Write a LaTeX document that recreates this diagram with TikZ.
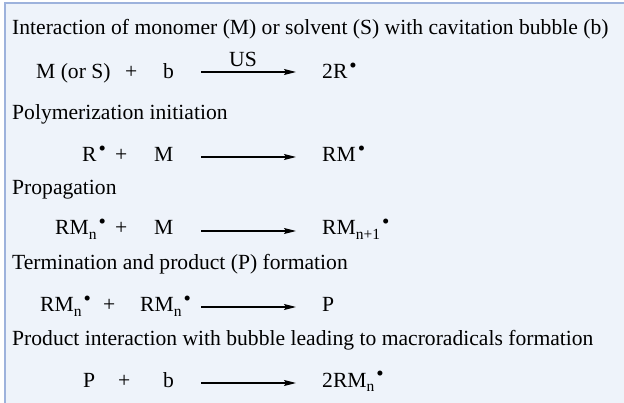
\documentclass[tikz,border=0pt]{standalone}
\usepackage{fontspec}
\setmainfont{Liberation Serif}
\newfontfamily\tms{Liberation Serif}
\usetikzlibrary{arrows.meta}
\definecolor{bgc}{HTML}{EEF3FA}
\definecolor{framec}{HTML}{9DB2DC}
\newcommand{\rdot}{\kern2pt\raisebox{6pt}{\fontsize{21}{21}\selectfont\textbullet}}
\newcommand{\sbn}[1]{\raisebox{-0.22em}{\fontsize{15.5}{15.5}\selectfont #1}}
\tikzset{
  txt/.style={anchor=base west, inner sep=0pt, font=\tms\fontsize{21.6}{24}\selectfont},
  rxn/.style={-{Stealth[length=12pt,width=6pt,inset=2pt]}, line width=1.2pt},
}
\begin{document}
\begin{tikzpicture}[x=1pt,y=-1pt]
\useasboundingbox (0,0) rectangle (624,403);
\fill[white] (0,0) rectangle (624,403);
\fill[bgc] (5,3) rectangle (626,406);
\draw[framec, line width=1.5pt] (5,406) -- (5,3) -- (626,3);
% line 1
\node[txt] (h1) at (12,35) {Interaction of monomer (M) or solvent (S) with cavitation bubble (b)};
\node[txt] (r1a) at (36,79) {M (or S)};
\node[txt] (p1) at (125,79) {+};
\node[txt] (r1b) at (163,79) {b};
\coordinate (a1s) at (201,72);
\coordinate (a1e) at (296,72);
\draw[rxn] (a1s) -- (a1e);
\node[txt] (us) at (229,67) {US};
\node[txt] (pr1) at (322,79) {2R\rdot};
% line 2
\node[txt] (h2) at (12,120) {Polymerization initiation};
\node[txt] (r2a) at (82,162) {R\rdot};
\node[txt] (p2) at (115,162) {+};
\node[txt] (r2b) at (154,162) {M};
\coordinate (a2s) at (201,157);
\coordinate (a2e) at (296,157);
\draw[rxn] (a2s) -- (a2e);
\node[txt] (pr2) at (322,162) {RM\rdot};
% line 3
\node[txt] (h3) at (12,195) {Propagation};
\node[txt] (r3a) at (55,235) {RM\sbn{n}\rdot};
\node[txt] (p3) at (115,235) {+};
\node[txt] (r3b) at (154,235) {M};
\coordinate (a3s) at (201,231);
\coordinate (a3e) at (296,231);
\draw[rxn] (a3s) -- (a3e);
\node[txt] (pr3) at (322,235) {RM\sbn{n+1}\rdot};
% line 4
\node[txt] (h4) at (12,270) {Termination and product (P) formation};
\node[txt] (r4a) at (40,312) {RM\sbn{n}\rdot};
\node[txt] (p4) at (103,312) {+};
\node[txt] (r4b) at (140,312) {RM\sbn{n}\rdot};
\coordinate (a4s) at (201,307);
\coordinate (a4e) at (296,307);
\draw[rxn] (a4s) -- (a4e);
\node[txt] (pr4) at (322,312) {P};
% line 5
\node[txt] (h5) at (12,345) {Product interaction with bubble leading to macroradicals formation};
\node[txt] (r5a) at (83,387) {P};
\node[txt] (p5) at (118,387) {+};
\node[txt] (r5b) at (163,387) {b};
\coordinate (a5s) at (201,383);
\coordinate (a5e) at (296,383);
\draw[rxn] (a5s) -- (a5e);
\node[txt] (pr5) at (322,387) {2RM\sbn{n}\rdot};
\end{tikzpicture}
\end{document}
